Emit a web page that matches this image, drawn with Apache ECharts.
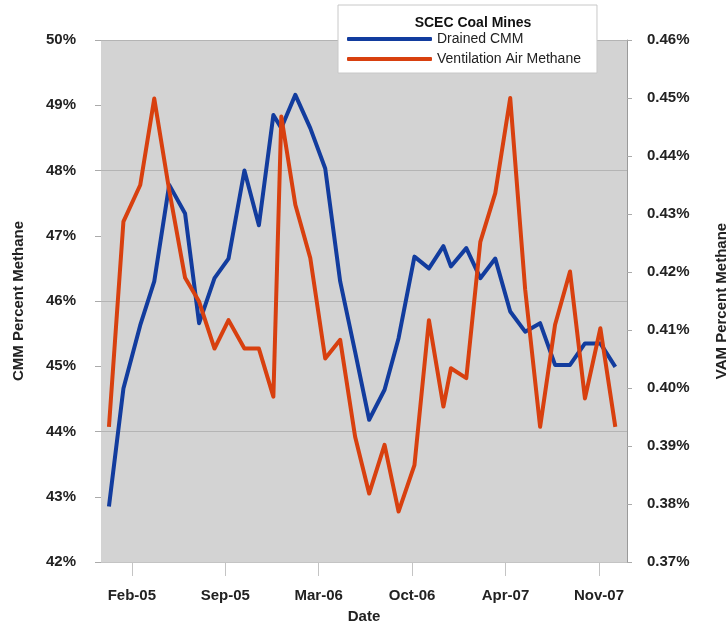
<!DOCTYPE html>
<html><head><meta charset="utf-8">
<script src="https://cdn.jsdelivr.net/npm/echarts@6/dist/echarts.min.js"></script>
<style>html,body{margin:0;padding:0;background:#fff}#c{width:728px;height:624px}</style>
</head><body><div id="c"></div>
<script>
// Sample dates
const dates = ['2004-12-30','2005-01-30','2005-03-07','2005-04-06','2005-05-08','2005-06-11','2005-07-11','2005-08-13','2005-09-12','2005-10-16','2005-11-16','2005-12-17','2006-01-03','2006-02-02','2006-03-06','2006-04-07','2006-05-09','2006-06-10','2006-07-10','2006-08-12','2006-09-11','2006-10-15','2006-11-15','2006-12-16','2007-01-01','2007-02-03','2007-03-05','2007-04-06','2007-05-08','2007-06-09','2007-07-11','2007-08-12','2007-09-13','2007-10-15','2007-11-17','2007-12-19'];
// Drained CMM, percent methane (left axis)
const drainedCMM = [42.85,44.66,45.63,46.30,47.78,47.34,45.66,46.35,46.65,48.00,47.16,48.85,48.65,49.16,48.65,48.03,46.30,45.22,44.18,44.64,45.43,46.68,46.50,46.84,46.53,46.81,46.35,46.65,45.84,45.53,45.66,45.02,45.02,45.35,45.35,44.99];
// Ventilation Air Methane, percent methane (right axis)
const vam = [0.3933,0.4287,0.4350,0.4499,0.4341,0.4190,0.4149,0.4068,0.4117,0.4068,0.4068,0.3985,0.4468,0.4316,0.4224,0.4051,0.4083,0.3916,0.3818,0.3902,0.3787,0.3867,0.4117,0.3968,0.4034,0.4017,0.4252,0.4336,0.4500,0.4170,0.3933,0.4109,0.4201,0.3982,0.4103,0.3933];
const seriesNames = ['Drained CMM','Ventilation Air Methane'];
const legendTitle = 'SCEC Coal Mines';
// Axis ticks
const xTickDates = ['2005-02-17','2005-09-05','2006-03-24','2006-10-10','2007-04-28','2007-11-14'];
const xRange = ['2004-12-13','2008-01-13'];
const leftRange = [42, 50, 1];
const rightRange = [0.37, 0.46, 0.01];

const MONTHS = ['Jan','Feb','Mar','Apr','May','Jun','Jul','Aug','Sep','Oct','Nov','Dec'];
function day(s){const p=s.split('-');return Date.UTC(+p[0],+p[1]-1,+p[2])/86400000;}
function fmtDay(d){const dt=new Date(Math.round(d)*86400000);return MONTHS[dt.getUTCMonth()]+'-'+String(dt.getUTCFullYear()%100).padStart(2,'0');}
const xTicks = xTickDates.map(day);

const FONT = '"Liberation Sans", Arial, sans-serif';
const BLUE = '#123c9e', RED = '#d8400f';
const chart = echarts.init(document.getElementById('c'), null, {renderer:'canvas'});
chart.setOption({
  animation:false,
  backgroundColor:'#fff',
  textStyle:{fontFamily:FONT},
  title:{text:legendTitle,left:468,top:11,textAlign:'center',z:20,
    textStyle:{fontFamily:FONT,fontSize:14,fontWeight:'bold',color:'#111'}},
  legend:{orient:'vertical',left:338,top:5,z:15,
    padding:[27,16,7,9],itemGap:6,itemWidth:85,itemHeight:4,
    backgroundColor:'#fff',borderColor:'#c8c8c8',borderWidth:1,
    textStyle:{fontFamily:FONT,fontSize:14,color:'#222'},
    data:[{name:seriesNames[0],icon:'roundRect',itemStyle:{color:BLUE}},
          {name:seriesNames[1],icon:'roundRect',itemStyle:{color:RED}}]},
  grid:{left:101,right:101,top:40,bottom:62,outerBoundsMode:'none',containLabel:false,
    show:true,backgroundColor:'#d3d3d3',borderWidth:0},
  xAxis:{type:'value',min:day(xRange[0]),max:day(xRange[1]),
    name:'Date',nameLocation:'middle',nameGap:47,
    nameTextStyle:{fontFamily:FONT,fontSize:15,fontWeight:'bold',color:'#222'},
    axisLine:{show:true,lineStyle:{color:'#c4c4c4',width:1}},
    axisTick:{show:true,length:14,customValues:xTicks,lineStyle:{color:'#c4c4c4'}},
    axisLabel:{customValues:xTicks,formatter:fmtDay,margin:26,fontFamily:FONT,fontSize:15,fontWeight:'bold',color:'#222'},
    splitLine:{show:false}},
  yAxis:[
    {type:'value',position:'left',min:leftRange[0],max:leftRange[1],interval:leftRange[2],
      name:'CMM Percent Methane',nameLocation:'middle',nameGap:75,nameRotate:90,
      nameTextStyle:{fontFamily:FONT,fontSize:15,fontWeight:'bold',color:'#222'},
      axisLine:{show:false},axisTick:{show:true,length:6,lineStyle:{color:'#aaa'}},
      axisLabel:{formatter:v=>Math.round(v)+'%',margin:25,fontFamily:FONT,fontSize:15,fontWeight:'bold',color:'#222'},
      splitLine:{show:false}},
    {type:'value',position:'right',min:rightRange[0],max:rightRange[1],interval:rightRange[2],
      name:'VAM Percent Methane',nameLocation:'middle',nameGap:87,nameRotate:90,
      nameTextStyle:{fontFamily:FONT,fontSize:15,fontWeight:'bold',color:'#222'},
      axisLine:{show:true,lineStyle:{color:'#9a9a9a'}},axisTick:{show:true,length:5,lineStyle:{color:'#aaa'}},
      axisLabel:{formatter:v=>v.toFixed(2)+'%',margin:20,fontFamily:FONT,fontSize:15,fontWeight:'bold',color:'#222'},
      splitLine:{show:false}},
    {type:'value',position:'left',min:leftRange[0],max:leftRange[1],interval:2,
      axisLine:{show:false},axisTick:{show:false},axisLabel:{show:false},
      splitLine:{show:true,lineStyle:{color:'#b4b4b4',width:1}}}
  ],
  series:[
    {name:seriesNames[0],type:'line',xAxisIndex:0,yAxisIndex:0,symbol:'none',
      data:dates.map((d,i)=>[day(d),drainedCMM[i]]),
      lineStyle:{color:BLUE,width:4,join:'round'},itemStyle:{color:BLUE}},
    {name:seriesNames[1],type:'line',xAxisIndex:0,yAxisIndex:1,symbol:'none',
      data:dates.map((d,i)=>[day(d),vam[i]]),
      lineStyle:{color:RED,width:4,join:'round'},itemStyle:{color:RED}}
  ]
});
</script></body></html>
